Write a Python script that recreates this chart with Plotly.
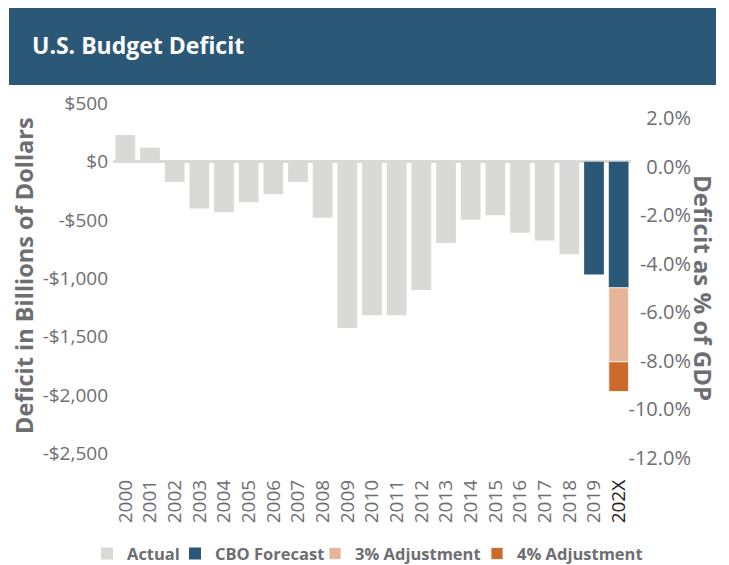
import plotly.graph_objects as go

years = ["2000", "2001", "2002", "2003", "2004", "2005", "2006", "2007", "2008", "2009",
         "2010", "2011", "2012", "2013", "2014", "2015", "2016", "2017", "2018", "2019", "202X"]
actual_years = years[:19]
actual = [230, 122, -172, -400, -433, -346, -277, -172, -480, -1425,
          -1316, -1316, -1099, -697, -497, -458, -608, -674, -793]
cbo_years = ["2019", "202X"]
cbo = [-966, -1080]
adj_years = ["202X"]
adj3 = [-635]
adj4 = [-255]

left_ticks = [500, 0, -500, -1000, -1500, -2000, -2500]
left_labels = ["$500", "$0", "-$500", "-$1,000", "-$1,500", "-$2,000", "-$2,500"]
right_ticks = [2, 0, -2, -4, -6, -8, -10, -12]
right_labels = ["2.0%", "0.0%", "-2.0%", "-4.0%", "-6.0%", "-8.0%", "-10.0%", "-12.0%"]
x_labels = years[:-1] + ['<span style="color:#231f20">202X</span>']

GRAY = "#6d6e71"
W, H = 729, 565
TICKF = "Open Sans"

fig = go.Figure()
fig.add_bar(x=actual_years, y=actual, name="Actual", legendwidth=43,
            marker=dict(color="#d9d9d8", line=dict(width=0)))
fig.add_bar(x=cbo_years, y=cbo, name="CBO Forecast", legendwidth=95,
            marker=dict(color="#2b5876", line=dict(width=0)))
fig.add_bar(x=adj_years, y=adj3, name="3% Adjustment", legendwidth=117,
            marker=dict(color="#e6b497", line=dict(color="white", width=0.8)))
fig.add_bar(x=adj_years, y=adj4, name="4% Adjustment", legendwidth=122,
            marker=dict(color="#cc6a2c", line=dict(color="white", width=0.8)))
# empty helper trace so the right-hand percentage axis is drawn
fig.add_scatter(x=[None], y=[None], yaxis="y2", showlegend=False, hoverinfo="skip", mode="markers")

px_top, px_bot, px_left, px_right = 100, 475, 113, 631
zero_px = 161.8
px_per_bn = 0.1166
pct_top_px, px_per_pct = 118, 24.286  # 2% label position and spacing

left_range = [-(px_bot - zero_px) / px_per_bn, (zero_px - px_top) / px_per_bn]
right_range = [2 - (px_bot - pct_top_px) / px_per_pct, 2 + (pct_top_px - px_top) / px_per_pct]

fig.update_layout(
    width=W, height=H,
    margin=dict(l=0, r=0, t=0, b=0, autoexpand=False),
    paper_bgcolor="white", plot_bgcolor="white",
    barmode="relative", bargap=0.2,
    xaxis=dict(domain=[px_left / W, px_right / W], type="category", categoryorder="array",
               categoryarray=years, tickvals=years, ticktext=x_labels, tickangle=-90,
               tickfont=dict(family=TICKF, size=19, color=GRAY), showline=False, ticks="",
               showgrid=False, zeroline=False, range=[-0.5, 20.5], ticklabelstandoff=0),
    yaxis=dict(domain=[1 - px_bot / H, 1 - px_top / H], range=left_range,
               tickvals=left_ticks, ticktext=left_labels, ticklabelstandoff=4,
               tickfont=dict(family=TICKF, size=19, color=GRAY), showgrid=False,
               zeroline=True, zerolinecolor="#d9d9d8", zerolinewidth=2.5, showline=False, ticks=""),
    yaxis2=dict(overlaying="y", side="right", anchor="free", position=694 / W,
                range=right_range, tickvals=right_ticks, ticktext=right_labels,
                tickfont=dict(family=TICKF, size=20, color=GRAY), ticklabelposition="inside",
                showgrid=False, zeroline=False, showline=False, ticks=""),
    legend=dict(orientation="h", x=87 / W, xanchor="left", y=-0.011, yanchor="bottom",
                font=dict(family=TICKF, size=16.5, color=GRAY, weight="bold"),
                itemclick=False, traceorder="normal", bgcolor="rgba(0,0,0,0)"),
    showlegend=True,
    shapes=[dict(type="rect", xref="paper", yref="paper", x0=9 / W, x1=716 / W,
                 y0=1 - 85 / H, y1=1 - 8 / H, fillcolor="#2b5876", line=dict(width=0), layer="below")],
    annotations=[
        dict(text="U.S. Budget Deficit", xref="paper", yref="paper", x=30 / W, y=1 - 45 / H,
             xanchor="left", yanchor="middle", showarrow=False,
             font=dict(family=TICKF, size=23, color="white", weight="bold")),
        dict(text="Deficit in Billions of Dollars", xref="paper", yref="paper", x=24 / W, y=1 - 276 / H,
             xanchor="center", yanchor="middle", textangle=-90, showarrow=False,
             font=dict(family=TICKF, size=23.5, color=GRAY, weight="bold")),
        dict(text="Deficit as % of GDP", xref="paper", yref="paper", x=704 / W, y=1 - 288 / H,
             xanchor="center", yanchor="middle", textangle=90, showarrow=False,
             font=dict(family=TICKF, size=24, color=GRAY, weight="bold")),
    ],
)

fig.write_html("out.html")
